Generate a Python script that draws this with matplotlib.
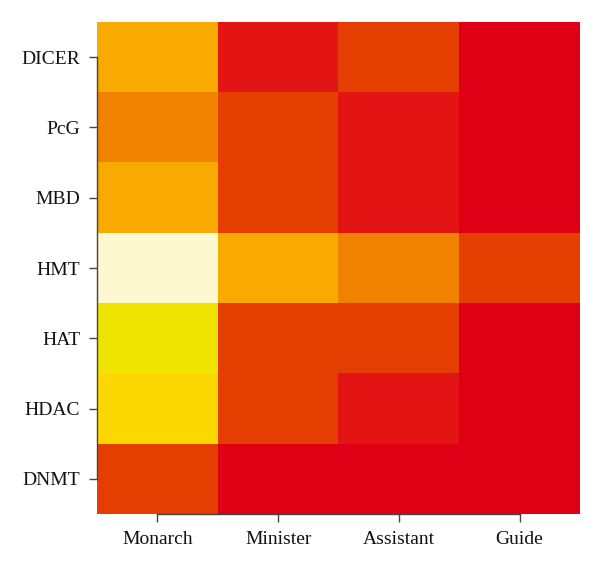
import numpy as np
import matplotlib.pyplot as plt
from matplotlib.colors import ListedColormap, BoundaryNorm

# rows (top to bottom) and columns
genes = ['DICER', 'PcG', 'MBD', 'HMT', 'HAT', 'HDAC', 'DNMT']
roles = ['Monarch', 'Minister', 'Assistant', 'Guide']

# colour level of each cell (1 = deepest red ... 8 = palest)
dicer = [5, 2, 3, 1]
pcg = [4, 3, 2, 1]
mbd = [5, 3, 2, 1]
hmt = [8, 5, 4, 3]
hat = [7, 3, 3, 1]
hdac = [6, 3, 2, 1]
dnmt = [3, 1, 1, 1]

level_colors = ['#E00016', '#E31414', '#E43E00', '#F08200',
                '#F9AA00', '#FCD800', '#EEE400', '#FDF8CF']

data = np.array([dicer, pcg, mbd, hmt, hat, hdac, dnmt])

cmap = ListedColormap(level_colors)
norm = BoundaryNorm(np.arange(0.5, 9.5, 1), cmap.N)

plt.rcParams['font.family'] = ['Liberation Serif', 'DejaVu Serif']

fig = plt.figure(figsize=(6, 5.7), dpi=100)
ax = fig.add_axes([97 / 600, 1 - 514 / 570, 483 / 600, 492 / 570])
ax.imshow(data, cmap=cmap, norm=norm, aspect='auto', interpolation='nearest')

ax.set_xticks(range(len(roles)))
ax.set_xticklabels(roles)
ax.set_yticks(range(len(genes)))
ax.set_yticklabels(genes)

for s in ['top', 'right']:
    ax.spines[s].set_visible(False)
ax.spines['left'].set_bounds(0, len(genes) - 1)
ax.spines['bottom'].set_bounds(0, len(roles) - 1)
for s in ['left', 'bottom']:
    ax.spines[s].set_color('#444444')
    ax.spines[s].set_linewidth(1.0)

ax.tick_params(length=6, width=1.0, color='#444444', pad=6,
               labelsize=14, labelcolor='#111111')

fig.savefig('out.png', dpi=100)
